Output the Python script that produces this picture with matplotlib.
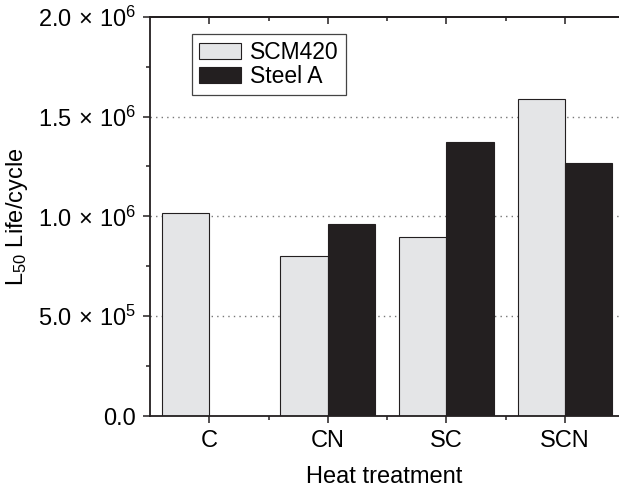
import matplotlib
matplotlib.use("Agg")
import matplotlib.pyplot as plt
import numpy as np
from matplotlib.ticker import FixedLocator, MultipleLocator

plt.rcParams['font.family'] = ['Liberation Sans', 'DejaVu Sans']
plt.rcParams['mathtext.fontset'] = 'custom'
plt.rcParams['mathtext.rm'] = 'Liberation Sans'
plt.rcParams['mathtext.it'] = 'Liberation Sans'

# data
treatments = ['C', 'CN', 'SC', 'SCN']
scm420 = [1.018e6, 0.803e6, 0.895e6, 1.587e6]
steel_a = [0, 0.963e6, 1.371e6, 1.269e6]
ytick_vals = [0, 0.5e6, 1.0e6, 1.5e6, 2.0e6]
ytick_labels = ['0.0', r'$5.0\,\times\,10^5$', r'$1.0\,\times\,10^6$',
                r'$1.5\,\times\,10^6$', r'$2.0\,\times\,10^6$']

ink = '#231f20'
fs = 17
fig = plt.figure(figsize=(6.19, 4.88), dpi=100)
ax = fig.add_axes([0.2423, 0.1475, 0.7577, 0.8183])

x = np.arange(len(treatments))
w = 0.4
ax.bar(x - w, scm420, w, align='edge', color='#e4e5e7', edgecolor=ink,
       linewidth=0.8, label='SCM420', zorder=2)
ax.bar(x[1:], steel_a[1:], w, align='edge', color=ink, edgecolor=ink,
       linewidth=0.8, label='Steel A', zorder=2)

ax.set_xlim(-0.5, 3.455)
ax.set_ylim(0, 2.0e6)

ax.set_xticks(x)
ax.set_xticklabels(treatments, fontsize=fs)
ax.xaxis.set_minor_locator(FixedLocator(x[:-1] + 0.5))
ax.set_yticks(ytick_vals)
ax.set_yticklabels(ytick_labels, fontsize=fs)
ax.yaxis.set_minor_locator(MultipleLocator(0.25e6))

ax.tick_params(which='major', direction='out', length=5, width=1.1, color=ink, pad=5)
ax.tick_params(which='minor', direction='out', length=3, width=1.1, color=ink)

for y in ytick_vals[1:-1]:
    ax.axhline(y, color='#777777', linestyle=(0, (1, 3)), linewidth=1, zorder=1)

for s in ['left', 'bottom', 'top']:
    ax.spines[s].set_linewidth(1.3)
    ax.spines[s].set_color(ink)
ax.spines['right'].set_visible(False)

top = ax.secondary_xaxis('top')
top.set_xticks(x)
top.set_xticklabels([])
top.xaxis.set_minor_locator(FixedLocator(x[:-1] + 0.5))
top.tick_params(which='major', direction='in', length=5, width=1.1, color=ink)
top.tick_params(which='minor', direction='in', length=3, width=1.1, color=ink)
top.spines['top'].set_linewidth(1.3)
top.spines['top'].set_color(ink)

ax.set_xlabel('Heat treatment', fontsize=fs, labelpad=10)
ax.set_ylabel(r'L$_{50}$ Life/cycle', fontsize=fs, labelpad=6)

leg = ax.legend(loc='upper left', bbox_to_anchor=(0.089, 0.956), borderaxespad=0,
                fontsize=fs - 0.5, frameon=True, fancybox=False, framealpha=1,
                handlelength=1.85, handletextpad=0.4, borderpad=0.3,
                labelspacing=0.05)
leg.get_frame().set_edgecolor('#444444')
leg.get_frame().set_linewidth(0.9)

fig.savefig('out.png', dpi=100)
